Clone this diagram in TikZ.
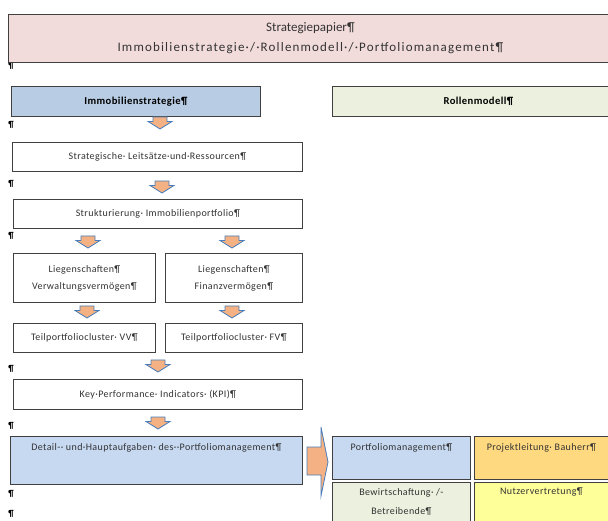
\documentclass[tikz,border=0pt]{standalone}
\usepackage{fontspec}
\setmainfont{Carlito}
\newfontfamily\spreadfont[LetterSpace=4]{Carlito}
\newfontfamily\widefont[LetterSpace=9]{Carlito}
\usetikzlibrary{positioning}
\definecolor{boxline}{HTML}{404040}
\definecolor{txt}{HTML}{333333}
\definecolor{pinkbg}{HTML}{F2DCDB}
\definecolor{bluehead}{HTML}{B8CCE4}
\definecolor{bluebg}{HTML}{C6D9F1}
\definecolor{greenbg}{HTML}{EBF1DE}
\definecolor{orangebg}{HTML}{FFD97F}
\definecolor{yellowbg}{HTML}{FFFF99}
\definecolor{arrowfill}{HTML}{F4B183}
\definecolor{arrowline}{HTML}{4A7EBB}
\tikzstyle{box}=[draw=boxline,line width=0.8pt,fill=white,text=txt,inner sep=0pt,anchor=north west,align=center,font=\spreadfont\fontsize{10}{17}\selectfont]
\tikzstyle{headbox}=[box,text=black,font=\spreadfont\bfseries\fontsize{10.6}{13}\selectfont]
\tikzstyle{boxtext}=[text=txt,inner sep=0pt,align=center,font=\spreadfont\fontsize{10}{19}\selectfont]
\tikzstyle{pilcrow}=[text=black,inner sep=0pt,font=\bfseries\fontsize{9}{9}\selectfont]
\tikzstyle{arrowbox}=[fill=arrowfill,draw=arrowline,line width=0.8pt,line join=miter]
\tikzset{downarrow/.pic={
  \path[arrowbox] (-7,0) -- (7,0) -- (7,4.5) -- (12,4.5) -- (0,12) -- (-12,4.5) -- (-7,4.5) -- cycle;
}}

\begin{document}
\begin{tikzpicture}[x=1pt,y=-1pt]
    \useasboundingbox (0,0) rectangle (608,521);
    % loose paragraph marks in the margin
    \foreach \y in {66,125,184,236,369,426,494,514}
        \node[pilcrow] (p\y) at (11,\y) {¶};
    % title
    \node[box,fill=pinkbg,minimum width=604pt,minimum height=48pt,font=\fontsize{13}{20}\selectfont] (title) at (8,14)
        {Strategiepapier¶\\{\widefont Immobilienstrategie·/·Rollenmodell·/·Portfoliomanagement¶}};
    % the two headings
    \node[headbox,fill=bluehead,minimum width=249pt,minimum height=30pt] (strat) at (11,86) {Immobilienstrategie¶};
    \node[headbox,fill=greenbg,minimum width=292pt,minimum height=30pt] (rollen) at (332,86) {Rollenmodell¶};
    % left column
    \node[box,minimum width=290pt,minimum height=29pt] (leit) at (12,142) {Strategische· Leitsätze·und·Ressourcen¶};
    \node[box,minimum width=289pt,minimum height=29pt] (struk) at (13,199) {Strukturierung· Immobilienportfolio¶};
    \node[box,minimum width=142pt,minimum height=49pt] (liegvv) at (13,253) {Liegenschaften¶\\Verwaltungsvermögen¶};
    \node[box,minimum width=137pt,minimum height=49pt] (liegfv) at (165,253) {Liegenschaften¶\\Finanzvermögen¶};
    \node[box,minimum width=142pt,minimum height=29pt] (tpvv) at (13,323) {Teilportfoliocluster· VV¶};
    \node[box,minimum width=137pt,minimum height=29pt] (tpfv) at (165,323) {Teilportfoliocluster· FV¶};
    \node[box,minimum width=289pt,minimum height=30pt] (kpi) at (13,379) {Key·Performance· Indicators· (KPI)¶};
    \node[box,fill=bluebg,minimum width=292pt,minimum height=48pt] (detail) at (10,436) {};
    \node[boxtext,below=7pt of detail.north] (detailtxt) {Detail-· und·Hauptaufgaben· des··Portfoliomanagement¶};
    % block arrows between the steps
    \foreach \x/\y/\name in {160/117/a1, 162/181/a2, 88/236/a3, 232/236/a4, 87/306/a5, 232/306/a6, 158/360/a7, 158/417/a8}
        \pic (\name) at (\x,\y) {downarrow};
    % arrow into the role model
    \path[arrowbox] (307,447) -- (321,447) -- (321,427) -- (328,462) -- (321,496) -- (321,475) -- (307,475) -- cycle;
    % role model
    \node[box,fill=bluebg,minimum width=138pt,minimum height=43pt] (pm) at (332,436) {};
    \node[box,fill=orangebg,minimum width=140pt,minimum height=43pt] (pl) at (474,436) {};
    \node[box,fill=greenbg,minimum width=138pt,minimum height=45pt] (bw) at (332,482) {};
    \node[box,fill=yellowbg,minimum width=140pt,minimum height=45pt] (nv) at (474,482) {};
    \node[boxtext,below=7pt of pm.north] (pmtxt) {Portfoliomanagement¶};
    \node[boxtext,below=7pt of pl.north,xshift=-3pt] (pltxt) {Projektleitung· Bauherr¶};
    \node[boxtext,below=6pt of bw.north] (bwtxt) {Bewirtschaftung· /-\\Betreibende¶};
    \node[boxtext,below=6pt of nv.north,xshift=-3pt] (nvtxt) {Nutzervertretung¶};
\end{tikzpicture}
\end{document}
